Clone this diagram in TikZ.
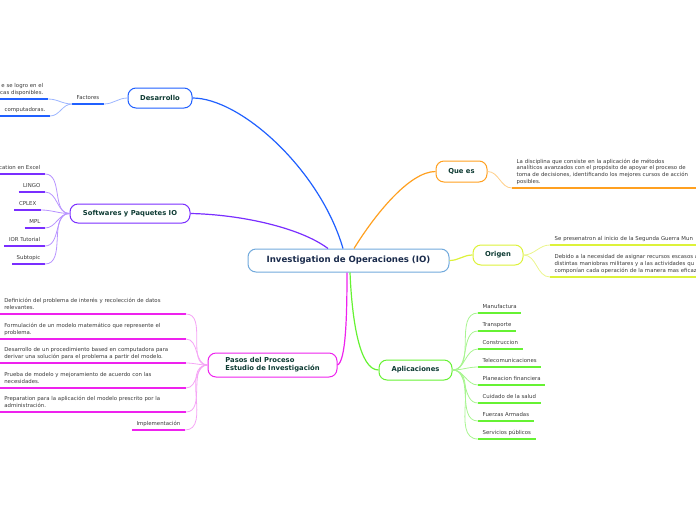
\documentclass[tikz,border=0pt]{standalone}
\usepackage{fontspec}
\setmainfont{DejaVu Sans}

\definecolor{iotitle}{HTML}{1A2B4C}
\definecolor{brtext}{HTML}{0E3B33}
\definecolor{leafgray}{HTML}{3A3A3A}
\definecolor{cenblue}{HTML}{72AADC}
\definecolor{desblue}{HTML}{2060FF}
\definecolor{desblue2}{HTML}{9DB6FF}
\definecolor{swpurple}{HTML}{7A2EFF}
\definecolor{swpurple2}{HTML}{B894FF}
\definecolor{pamag}{HTML}{EE22EE}
\definecolor{pamag2}{HTML}{F5A5F5}
\definecolor{qeorange}{HTML}{FFA020}
\definecolor{qeorange2}{HTML}{FFCF8A}
\definecolor{oryellow}{HTML}{DDF23A}
\definecolor{oryellow2}{HTML}{EBF58C}
\definecolor{apgreen}{HTML}{66F233}
\definecolor{apgreen2}{HTML}{A8F590}

\newcommand{\leaffont}{\fontsize{5.4}{6.8}\selectfont}
\newcommand{\topicfont}{\fontsize{6.8}{8.2}\selectfont\bfseries}
\newcommand{\rootfont}{\fontsize{8.6}{10}\selectfont\bfseries}

\begin{document}
\begin{tikzpicture}[x=1pt,y=-1pt,
rootbox/.style={draw=cenblue,line width=1pt,rounded corners=8pt,fill=white,font=\rootfont,text=iotitle,minimum width=201pt,minimum height=23pt},
topicbox/.style={draw=#1,line width=1pt,rounded corners=8pt,fill=white,font=\topicfont,text=brtext,inner sep=0pt,minimum height=20pt},
leaf/.style={font=\leaffont,text=leafgray,inner xsep=4.5pt,inner ysep=2.2pt,execute at end node={\strut}},
uline/.style={append after command={(\tikzlastnode.south west) edge[draw=#1,line width=1.4pt] (\tikzlastnode.south east)}},
branch/.style={draw=#1,line width=1.2pt},
twig/.style={draw=#1,line width=0.8pt}]

\useasboundingbox (0,0) rectangle (696,520);

% main topics
\node[rootbox] (io) at (348.5,260.5) {Investigation de Operaciones (IO)};
\node[topicbox=desblue,minimum width=64pt] (des) at (160,98) {Desarrollo};
\node[topicbox=swpurple,minimum width=120pt,minimum height=19pt] (sw) at (130,213.5) {Softwares y Paquetes IO};
\node[topicbox=pamag,minimum width=129pt,minimum height=24pt,align=left] (pas) at (272.5,365) {Pasos del Proceso\\Estudio de Investigación};
\node[topicbox=qeorange,minimum width=51pt,minimum height=21pt] (que) at (461.5,171.5) {Que es};
\node[topicbox=oryellow,minimum width=50pt] (ori) at (498,255) {Origen};
\node[topicbox=apgreen,minimum width=73pt] (apl) at (415.5,370) {Aplicaciones};

\draw[branch=desblue] (des.east) .. controls +(48,0) and +(-23,-79) .. ([xshift=-5.5pt]io.north);
\draw[branch=swpurple] (sw.east) .. controls +(50,1) and +(-28,-21) .. ([xshift=-20.5pt]io.north);
\draw[branch=qeorange] ([xshift=5.5pt]io.north) .. controls +(21,-34) and +(-26,0) .. (que.west);
\draw[branch=oryellow] (io.east) to[out=0,in=180] (ori.west);
\draw[branch=pamag] ([xshift=-1.5pt]io.south) .. controls +(0,48) and +(8,-4) .. (pas.east);
\draw[branch=apgreen] ([xshift=1.5pt]io.south) .. controls +(2,48) and +(-19,0) .. (apl.west);

% Desarrollo
\node[leaf,uline=desblue,anchor=south west,minimum width=31pt] (fac) at (72,104) {Factores};
\node[leaf,uline=desblue,anchor=south east,text width=56pt,align=right] (fac1) at (48,99) {e se logro en el\\cas disponibles.};
\node[leaf,uline=desblue,anchor=south east,text width=56pt,align=right] (fac2) at (50,116) {computadoras.};
\draw[twig=desblue2] (des.west) to[out=180,in=0] (fac.south east);
\draw[twig=desblue2] (fac.south west) to[out=180,in=0] (fac1.south east);
\draw[twig=desblue2] (fac.south west) to[out=180,in=0] (fac2.south east);

% Softwares
\node[leaf,uline=swpurple,anchor=south east] (sw1) at (45,174) {cation en Excel};
\node[leaf,uline=swpurple,anchor=south east] (sw2) at (45,192) {LINGO};
\node[leaf,uline=swpurple,anchor=south east] (sw3) at (41,210) {CPLEX};
\node[leaf,uline=swpurple,anchor=south east] (sw4) at (45,228) {MPL};
\node[leaf,uline=swpurple,anchor=south east] (sw5) at (45,246) {IOR Tutorial};
\node[leaf,uline=swpurple,anchor=south east] (sw6) at (45,264) {Subtopic};
\draw[twig=swpurple2] (sw.west) to[out=180,in=0] (sw1.south east);
\draw[twig=swpurple2] (sw.west) to[out=180,in=0] (sw2.south east);
\draw[twig=swpurple2] (sw.west) to[out=180,in=0] (sw3.south east);
\draw[twig=swpurple2] (sw.west) to[out=180,in=0] (sw4.south east);
\draw[twig=swpurple2] (sw.west) to[out=180,in=0] (sw5.south east);
\draw[twig=swpurple2] (sw.west) to[out=180,in=0] (sw6.south east);

% Pasos del Proceso
\node[leaf,uline=pamag,anchor=south east,text width=177pt,align=left] (pa1) at (186,314) {Definición del problema de interés y recolección de datos\\relevantes.};
\node[leaf,uline=pamag,anchor=south east,text width=177pt,align=left] (pa2) at (186,339) {Formulación de un modelo matemático que represente el\\problema.};
\node[leaf,uline=pamag,anchor=south east,text width=177pt,align=left] (pa3) at (186,363) {Desarrollo de un procedimiento based en computadora para\\derivar una solución para el problema a partir del modelo.};
\node[leaf,uline=pamag,anchor=south east,text width=177pt,align=left] (pa4) at (186,388) {Prueba de modelo y mejoramiento de acuerdo con las\\necesidades.};
\node[leaf,uline=pamag,anchor=south east,text width=177pt,align=left] (pa5) at (186,412) {Preparation para la aplicación del modelo prescrito por la\\administración.};
\node[leaf,uline=pamag,anchor=south east] (pa6) at (185,430) {Implementación};
\draw[twig=pamag2] (pas.west) to[out=180,in=0] (pa1.south east);
\draw[twig=pamag2] (pas.west) to[out=180,in=0] (pa2.south east);
\draw[twig=pamag2] (pas.west) to[out=180,in=0] (pa3.south east);
\draw[twig=pamag2] (pas.west) to[out=180,in=0] (pa4.south east);
\draw[twig=pamag2] (pas.west) to[out=180,in=0] (pa5.south east);
\draw[twig=pamag2] (pas.west) to[out=180,in=0] (pa6.south east);

% Que es
\node[leaf,uline=qeorange,anchor=south west,text width=184pt,align=left] (qe1) at (512,188) {La disciplina que consiste en la aplicación de métodos\\analíticos avanzados con el propósito de apoyar el proceso de\\toma de decisiones, identificando los mejores cursos de acción\\posibles.};
\draw[twig=qeorange2] (que.east) to[out=0,in=180] (qe1.south west);

% Origen
\node[leaf,uline=oryellow,anchor=south west,text width=180pt,align=left] (or1) at (550,245) {Se presenatron al inicio de la Segunda Guerra Mun};
\node[leaf,uline=oryellow,anchor=south west,text width=180pt,align=left] (or2) at (550,277) {Debido a la necesidad de asignar recursos escasos a\\distintas maniobras militares y a las actividades qu\\componían cada operación de la manera mas eficaz};
\draw[twig=oryellow2] (ori.east) to[out=0,in=180] (or1.south west);
\draw[twig=oryellow2] (ori.east) to[out=0,in=180] (or2.south west);

% Aplicaciones
\node[leaf,uline=apgreen,anchor=south west] (ap1) at (478,313) {Manufactura};
\node[leaf,uline=apgreen,anchor=south west] (ap2) at (478,331) {Transporte};
\node[leaf,uline=apgreen,anchor=south west] (ap3) at (478,349) {Construccion};
\node[leaf,uline=apgreen,anchor=south west] (ap4) at (478,367) {Telecomunicaciones};
\node[leaf,uline=apgreen,anchor=south west] (ap5) at (478,385) {Planeacion financiera};
\node[leaf,uline=apgreen,anchor=south west] (ap6) at (478,403) {Cuidado de la salud};
\node[leaf,uline=apgreen,anchor=south west] (ap7) at (478,421) {Fuerzas Armadas};
\node[leaf,uline=apgreen,anchor=south west] (ap8) at (478,439) {Servicios públicos};
\draw[twig=apgreen2] (apl.east) to[out=0,in=180] (ap1.south west);
\draw[twig=apgreen2] (apl.east) to[out=0,in=180] (ap2.south west);
\draw[twig=apgreen2] (apl.east) to[out=0,in=180] (ap3.south west);
\draw[twig=apgreen2] (apl.east) to[out=0,in=180] (ap4.south west);
\draw[twig=apgreen2] (apl.east) to[out=0,in=180] (ap5.south west);
\draw[twig=apgreen2] (apl.east) to[out=0,in=180] (ap6.south west);
\draw[twig=apgreen2] (apl.east) to[out=0,in=180] (ap7.south west);
\draw[twig=apgreen2] (apl.east) to[out=0,in=180] (ap8.south west);

\end{tikzpicture}
\end{document}
